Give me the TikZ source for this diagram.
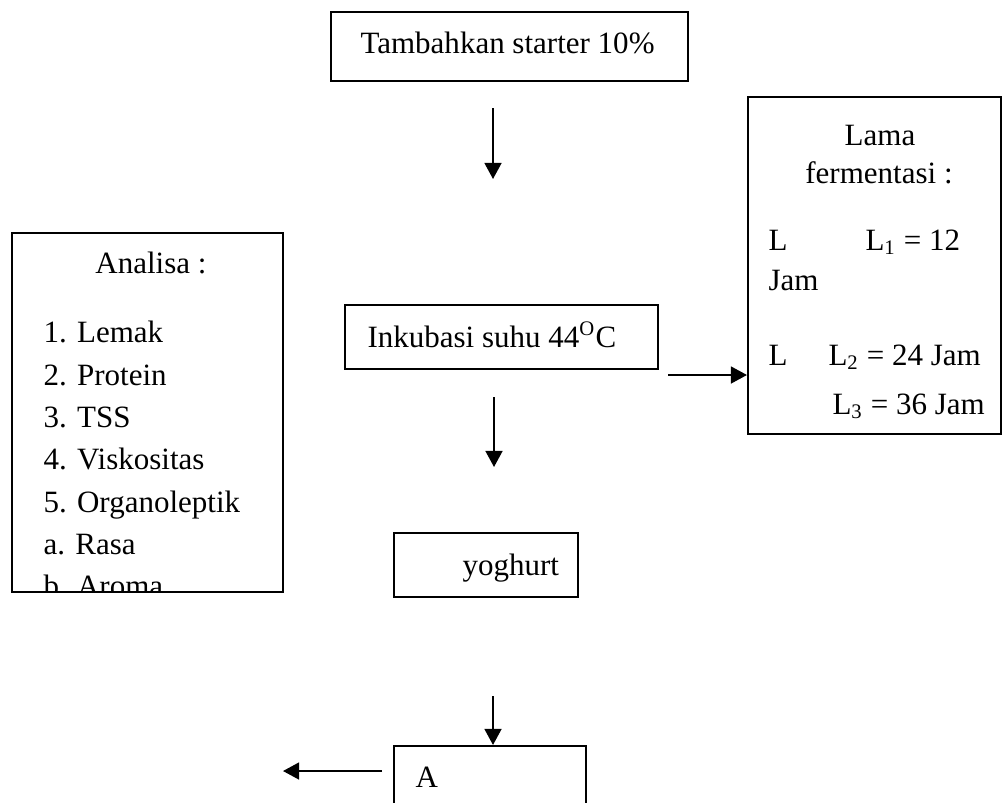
\documentclass[tikz,border=0pt]{standalone}
\usepackage{fontspec}
\setmainfont{Liberation Serif}
\usetikzlibrary{arrows.meta,positioning,fit}

\begin{document}
\begin{tikzpicture}[x=0.387pt, y=-0.387pt,
    every node/.style={font=\fontsize{12pt}{14pt}\selectfont, inner sep=0pt},
    box/.style={draw, line width=0.8pt, inner sep=0pt},
    txt/.style={anchor=base west},
    flow/.style={line width=0.8pt, -{Triangle[length=6.2pt,width=6.5pt]}}]
    \clip (0,0) rectangle (1003,802);
    % boxes
    \node[box, fit={(331,12) (688,81)}] (starter) {};
    \node[box, fit={(12,233) (283,592)}] (analisa) {};
    \node[box, fit={(345,305) (658,369)}] (inkubasi) {};
    \node[box, fit={(748,97) (1001,434)}] (lama) {};
    \node[box, fit={(394,533) (578,597)}] (yoghurt) {};
    \node[box, fit={(394,746) (586,812)}] (hasil) {};
    % texts
    \node[txt] (tstarter) at (360,53) {Tambahkan starter 10\%};
    \node[txt] (tinkubasi) at (367,347) {Inkubasi suhu 44\textsuperscript{O}C};
    \node[txt] (tyoghurt) at (462,575) {yoghurt};
    \node[txt] (thasil) at (415,787) {A};
    \node[anchor=base] (tanalisa) at (151,273) {Analisa :};
    \begin{scope}
      \clip (13,234) rectangle (282,591);
      \foreach \y/\lab [count=\i] in {342/1. Lemak, 385/2. Protein, 427/3. TSS,
        469/4. Viskositas, 512/5. Organoleptik, 554/a. Rasa, 596/b. Aroma}{
        \node[txt] (item\i) at (43,\y) {\lab};
      }
    \end{scope}
    \node[anchor=base] (tlama) at (880,145) {Lama};
    \node[anchor=base] (tferm) at (879,183) {fermentasi :};
    \node[txt] (la) at (768,250) {L};
    \node[txt] (lsatu) at (865,250) {L\textsubscript{1} = 12};
    \node[txt] (ljam) at (768,290) {Jam};
    \node[txt] (lb) at (768,365) {L};
    \node[txt] (ldua) at (828,365) {L\textsubscript{2} = 24 Jam};
    \node[txt] (ltiga) at (832,414) {L\textsubscript{3} = 36 Jam};
    % arrows
    \coordinate (a1) at (493,108);
    \coordinate (a1e) at (493,179);
    \coordinate (a2) at (494,397);
    \coordinate (a2e) at (494,467);
    \coordinate (a3) at (493,696);
    \coordinate (a4) at (668,375);
    \coordinate (a5) at (382,771);
    \coordinate (a5e) at (283,771);
    \draw[flow] (a1) -- (a1e);
    \draw[flow] (a2) -- (a2e);
    \draw[flow] (a3) -- (a3 |- hasil.north);
    \draw[flow] (a4) -- (a4 -| lama.west);
    \draw[flow] (a5) -- (a5e);
\end{tikzpicture}
\end{document}
